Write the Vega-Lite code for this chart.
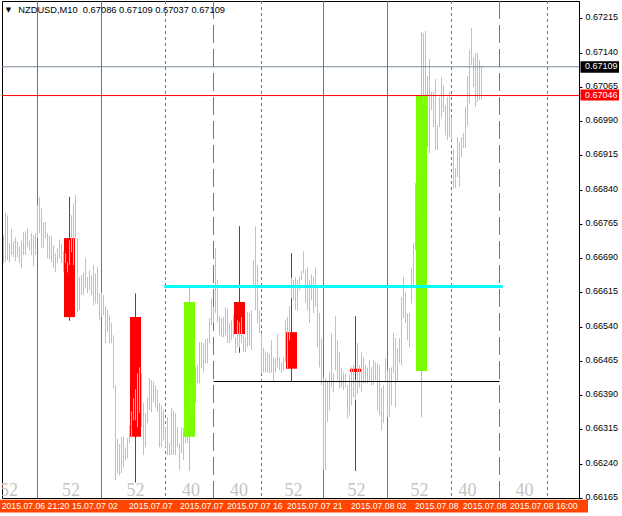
{
"$schema": "https://vega.github.io/schema/vega-lite/v6.json",
"width": 577, "height": 497,
"autosize": {"type": "none"},
"padding": {"left": 2, "top": 1, "right": 43, "bottom": 18},
"background": "#ffffff",
"config": {"view": {"stroke": "#000000", "strokeWidth": 1}},
"datasets": {
"bars": [
{"t":0,"h":0.66740,"l":0.66679},{"t":1,"h":0.66789,"l":0.66681},{"t":2,"h":0.66784,"l":0.66686},{"t":3,"h":0.66723,"l":0.66681},{"t":4,"h":0.66754,"l":0.66697},{"t":5,"h":0.66727,"l":0.66692},{"t":6,"h":0.66736,"l":0.66684},{"t":7,"h":0.66727,"l":0.66692},{"t":8,"h":0.66716,"l":0.66679},{"t":9,"h":0.66729,"l":0.66668},
{"t":10,"h":0.66747,"l":0.66697},{"t":11,"h":0.66749,"l":0.66697},{"t":12,"h":0.66756,"l":0.66714},{"t":13,"h":0.66729,"l":0.66708},{"t":14,"h":0.66745,"l":0.66697},{"t":15,"h":0.66740,"l":0.66672},{"t":16,"h":0.66745,"l":0.66697},{"t":17,"h":0.66806,"l":0.66734},{"t":18,"h":0.66824,"l":0.66745},{"t":19,"h":0.66800,"l":0.66712},
{"t":20,"h":0.66769,"l":0.66712},{"t":21,"h":0.66769,"l":0.66734},{"t":22,"h":0.66745,"l":0.66690},{"t":23,"h":0.66740,"l":0.66688},{"t":24,"h":0.66738,"l":0.66681},{"t":25,"h":0.66718,"l":0.66668},{"t":26,"h":0.66701,"l":0.66659},{"t":27,"h":0.66712,"l":0.66679},{"t":28,"h":0.66731,"l":0.66690},{"t":29,"h":0.66721,"l":0.66679},
{"t":30,"h":0.66705,"l":0.66659},{"t":31,"h":0.66701,"l":0.66679},{"t":32,"h":0.66681,"l":0.66659},{"t":33,"h":0.66729,"l":0.66675},{"t":34,"h":0.66784,"l":0.66703},{"t":35,"h":0.66810,"l":0.66675},{"t":36,"h":0.66828,"l":0.66734},{"t":37,"h":0.66734,"l":0.66572},{"t":38,"h":0.66649,"l":0.66576},{"t":39,"h":0.66653,"l":0.66609},
{"t":40,"h":0.66659,"l":0.66609},{"t":41,"h":0.66690,"l":0.66624},{"t":42,"h":0.66649,"l":0.66613},{"t":43,"h":0.66664,"l":0.66620},{"t":44,"h":0.66653,"l":0.66609},{"t":45,"h":0.66675,"l":0.66587},{"t":46,"h":0.66657,"l":0.66591},{"t":47,"h":0.66670,"l":0.66589},{"t":48,"h":0.66613,"l":0.66554},{"t":49,"h":0.66615,"l":0.66561},
{"t":50,"h":0.66609,"l":0.66565},{"t":51,"h":0.66585,"l":0.66504},{"t":52,"h":0.66578,"l":0.66528},{"t":53,"h":0.66565,"l":0.66504},{"t":54,"h":0.66548,"l":0.66504},{"t":55,"h":0.66521,"l":0.66405},{"t":56,"h":0.66412,"l":0.66204},{"t":57,"h":0.66294,"l":0.66219},{"t":58,"h":0.66283,"l":0.66215},{"t":59,"h":0.66298,"l":0.66219},
{"t":60,"h":0.66298,"l":0.66232},{"t":61,"h":0.66276,"l":0.66248},{"t":62,"h":0.66296,"l":0.66252},{"t":63,"h":0.66324,"l":0.66285},{"t":64,"h":0.66355,"l":0.66296},{"t":65,"h":0.66384,"l":0.66335},{"t":66,"h":0.66403,"l":0.66335},{"t":67,"h":0.66438,"l":0.66320},{"t":68,"h":0.66451,"l":0.66351},{"t":69,"h":0.66438,"l":0.66320},
{"t":70,"h":0.66373,"l":0.66259},{"t":71,"h":0.66351,"l":0.66276},{"t":72,"h":0.66384,"l":0.66329},{"t":73,"h":0.66427,"l":0.66357},{"t":74,"h":0.66423,"l":0.66353},{"t":75,"h":0.66419,"l":0.66375},{"t":76,"h":0.66412,"l":0.66364},{"t":77,"h":0.66403,"l":0.66353},{"t":78,"h":0.66373,"l":0.66276},{"t":79,"h":0.66368,"l":0.66276},
{"t":80,"h":0.66357,"l":0.66291},{"t":81,"h":0.66320,"l":0.66276},{"t":82,"h":0.66342,"l":0.66259},{"t":83,"h":0.66285,"l":0.66259},{"t":84,"h":0.66362,"l":0.66259},{"t":85,"h":0.66357,"l":0.66259},{"t":86,"h":0.66351,"l":0.66259},{"t":87,"h":0.66320,"l":0.66276},{"t":88,"h":0.66285,"l":0.66226},{"t":89,"h":0.66320,"l":0.66263},
{"t":90,"h":0.66318,"l":0.66248},{"t":91,"h":0.66364,"l":0.66285},{"t":92,"h":0.66407,"l":0.66285},{"t":93,"h":0.66412,"l":0.66335},{"t":94,"h":0.66419,"l":0.66351},{"t":95,"h":0.66423,"l":0.66357},{"t":96,"h":0.66451,"l":0.66373},{"t":97,"h":0.66456,"l":0.66416},{"t":98,"h":0.66506,"l":0.66416},{"t":99,"h":0.66506,"l":0.66449},
{"t":100,"h":0.66504,"l":0.66440},{"t":101,"h":0.66513,"l":0.66460},{"t":102,"h":0.66515,"l":0.66460},{"t":103,"h":0.66559,"l":0.66504},{"t":104,"h":0.66602,"l":0.66543},{"t":105,"h":0.66583,"l":0.66548},{"t":106,"h":0.66712,"l":0.66570},{"t":107,"h":0.66642,"l":0.66550},{"t":108,"h":0.66563,"l":0.66521},{"t":109,"h":0.66559,"l":0.66517},
{"t":110,"h":0.66561,"l":0.66517},{"t":111,"h":0.66583,"l":0.66521},{"t":112,"h":0.66580,"l":0.66504},{"t":113,"h":0.66548,"l":0.66504},{"t":114,"h":0.66554,"l":0.66510},{"t":115,"h":0.66565,"l":0.66517},{"t":116,"h":0.66517,"l":0.66482},{"t":117,"h":0.66554,"l":0.66495},{"t":118,"h":0.66550,"l":0.66495},{"t":119,"h":0.66561,"l":0.66504},
{"t":120,"h":0.66521,"l":0.66484},{"t":121,"h":0.66517,"l":0.66484},{"t":122,"h":0.66572,"l":0.66495},{"t":123,"h":0.66570,"l":0.66499},{"t":124,"h":0.66576,"l":0.66489},{"t":125,"h":0.66686,"l":0.66624},{"t":126,"h":0.66760,"l":0.66576},{"t":127,"h":0.66675,"l":0.66548},{"t":128,"h":0.66576,"l":0.66526},{"t":129,"h":0.66526,"l":0.66440},
{"t":130,"h":0.66493,"l":0.66440},{"t":131,"h":0.66486,"l":0.66440},{"t":132,"h":0.66484,"l":0.66440},{"t":133,"h":0.66480,"l":0.66438},{"t":134,"h":0.66510,"l":0.66440},{"t":135,"h":0.66473,"l":0.66419},{"t":136,"h":0.66471,"l":0.66440},{"t":137,"h":0.66524,"l":0.66451},{"t":138,"h":0.66473,"l":0.66445},{"t":139,"h":0.66462,"l":0.66440},
{"t":140,"h":0.66473,"l":0.66445},{"t":141,"h":0.66554,"l":0.66462},{"t":142,"h":0.66561,"l":0.66449},{"t":143,"h":0.66585,"l":0.66510},{"t":144,"h":0.66647,"l":0.66602},{"t":145,"h":0.66642,"l":0.66598},{"t":146,"h":0.66649,"l":0.66576},{"t":147,"h":0.66642,"l":0.66576},{"t":148,"h":0.66649,"l":0.66620},{"t":149,"h":0.66662,"l":0.66642},
{"t":150,"h":0.66705,"l":0.66657},{"t":151,"h":0.66664,"l":0.66591},{"t":152,"h":0.66670,"l":0.66576},{"t":153,"h":0.66642,"l":0.66548},{"t":154,"h":0.66655,"l":0.66598},{"t":155,"h":0.66649,"l":0.66570},{"t":156,"h":0.66670,"l":0.66583},{"t":157,"h":0.66624,"l":0.66495},{"t":158,"h":0.66570,"l":0.66451},{"t":159,"h":0.66515,"l":0.66412},
{"t":160,"h":0.66429,"l":0.66226},{"t":161,"h":0.66427,"l":0.66226},{"t":162,"h":0.66419,"l":0.66331},{"t":163,"h":0.66440,"l":0.66357},{"t":164,"h":0.66526,"l":0.66407},{"t":165,"h":0.66438,"l":0.66396},{"t":166,"h":0.66563,"l":0.66445},{"t":167,"h":0.66510,"l":0.66423},{"t":168,"h":0.66484,"l":0.66405},{"t":169,"h":0.66449,"l":0.66407},
{"t":170,"h":0.66440,"l":0.66401},{"t":171,"h":0.66438,"l":0.66407},{"t":172,"h":0.66412,"l":0.66340},{"t":173,"h":0.66434,"l":0.66346},{"t":174,"h":0.66451,"l":0.66368},{"t":175,"h":0.66456,"l":0.66386},{"t":176,"h":0.66423,"l":0.66379},{"t":177,"h":0.66504,"l":0.66394},{"t":178,"h":0.66456,"l":0.66407},{"t":179,"h":0.66484,"l":0.66396},
{"t":180,"h":0.66473,"l":0.66416},{"t":181,"h":0.66456,"l":0.66416},{"t":182,"h":0.66451,"l":0.66416},{"t":183,"h":0.66467,"l":0.66419},{"t":184,"h":0.66451,"l":0.66412},{"t":185,"h":0.66467,"l":0.66412},{"t":186,"h":0.66462,"l":0.66423},{"t":187,"h":0.66460,"l":0.66357},{"t":188,"h":0.66456,"l":0.66346},{"t":189,"h":0.66407,"l":0.66313},
{"t":190,"h":0.66412,"l":0.66329},{"t":191,"h":0.66471,"l":0.66419},{"t":192,"h":0.66445,"l":0.66342},{"t":193,"h":0.66449,"l":0.66342},{"t":194,"h":0.66451,"l":0.66368},{"t":195,"h":0.66526,"l":0.66438},{"t":196,"h":0.66515,"l":0.66364},{"t":197,"h":0.66493,"l":0.66419},{"t":198,"h":0.66515,"l":0.66460},{"t":199,"h":0.66605,"l":0.66456},
{"t":200,"h":0.66649,"l":0.66559},{"t":201,"h":0.66615,"l":0.66548},{"t":202,"h":0.66570,"l":0.66510},{"t":203,"h":0.66570,"l":0.66495},{"t":204,"h":0.66668,"l":0.66591},{"t":205,"h":0.66723,"l":0.66624},{"t":206,"h":0.66854,"l":0.66708},{"t":207,"h":0.67032,"l":0.66773},{"t":208,"h":0.66988,"l":0.66865},
{"t":210,"h":0.67183,"l":0.67025},{"t":211,"h":0.67187,"l":0.67043},{"t":212,"h":0.67089,"l":0.66933},{"t":213,"h":0.67126,"l":0.66920},{"t":214,"h":0.67054,"l":0.67014},{"t":215,"h":0.67054,"l":0.66977},{"t":216,"h":0.67082,"l":0.66927},{"t":217,"h":0.66981,"l":0.66927},{"t":218,"h":0.67043,"l":0.66977},{"t":219,"h":0.67086,"l":0.66997},
{"t":220,"h":0.67069,"l":0.67010},{"t":221,"h":0.67025,"l":0.66959},{"t":222,"h":0.67043,"l":0.66948},{"t":223,"h":0.67054,"l":0.66955},{"t":224,"h":0.66999,"l":0.66948},{"t":225,"h":0.66929,"l":0.66843},{"t":226,"h":0.66887,"l":0.66843},{"t":227,"h":0.66955,"l":0.66867},{"t":228,"h":0.66944,"l":0.66846},{"t":229,"h":0.66955,"l":0.66911},
{"t":230,"h":0.66964,"l":0.66931},{"t":231,"h":0.67021,"l":0.66931},{"t":232,"h":0.67089,"l":0.66979},{"t":233,"h":0.67146,"l":0.67029},{"t":234,"h":0.67194,"l":0.67113},{"t":235,"h":0.67130,"l":0.67065},{"t":236,"h":0.67139,"l":0.67021},{"t":237,"h":0.67139,"l":0.67032},{"t":238,"h":0.67124,"l":0.67036},{"t":239,"h":0.67109,"l":0.67037}
],
"candles": [
{"t":33,"o":0.66734,"c":0.66561,"h":0.66824,"l":0.66553,"dir":"down"},
{"t":66,"o":0.66561,"c":0.66299,"h":0.66613,"l":0.66199,"dir":"down"},
{"t":93,"o":0.66299,"c":0.66594,"h":0.66626,"l":0.66224,"dir":"up"},
{"t":118,"o":0.66594,"c":0.66524,"h":0.66760,"l":0.66483,"dir":"down"},
{"t":144,"o":0.66528,"c":0.66448,"h":0.66701,"l":0.66420,"dir":"down"},
{"t":176,"o":0.66448,"c":0.66441,"h":0.66563,"l":0.66224,"dir":"down"},
{"t":209,"o":0.66443,"c":0.67046,"h":0.67186,"l":0.66342,"dir":"up"}
],
"vlines": [
{"t":17,"s":"solid"},{"t":49,"s":"solid"},{"t":81,"s":"dot"},{"t":105,"s":"dash"},{"t":129,"s":"dot"},
{"t":160,"s":"solid"},{"t":192,"s":"solid"},{"t":224,"s":"dot"},{"t":248,"s":"dash"},{"t":272,"s":"dot"}
],
"counts": [
{"t":2.75,"n":"52"},{"t":33.75,"n":"52"},{"t":66,"n":"52"},{"t":93.75,"n":"40"},{"t":117.75,"n":"40"},
{"t":145,"n":"52"},{"t":176.5,"n":"52"},{"t":208,"n":"52"},{"t":232,"n":"40"},{"t":260.5,"n":"40"}
],
"times": [
{"t":253.25,"label":"2015.07.08 16:00"},
{"t":229.75,"label":"2015.07.08"},
{"t":205.75,"label":"2015.07.08"},
{"t":173.75,"label":"2015.07.08 02"},
{"t":141.75,"label":"2015.07.07 21"},
{"t":111.75,"label":"2015.07.07 16"},
{"t":88.25,"label":"2015.07.07"},
{"t":62.75,"label":"2015.07.07"},
{"t":34.25,"label":"15.07.07 02"},
{"t":-0.9,"label":"2015.07.06 21:20"}
]
},
"layer": [
{
"data": {"name": "vlines"},
"mark": {"type": "rule", "color": "#ff4500", "strokeWidth": 1},
"encoding": {
"x": {"field": "t", "type": "quantitative", "scale": {"domain": [-0.75, 287.75], "nice": false, "zero": false, "padding": 0}, "axis": null},
"strokeDash": {"field": "s", "type": "nominal", "scale": {"domain": ["solid", "dot", "dash"], "range": [[1, 0], [3, 3], [18, 6]]}, "legend": null}
}
},
{
"data": {"name": "candles"},
"mark": {"type": "rule", "strokeWidth": 1},
"encoding": {
"x": {"field": "t", "type": "quantitative", "scale": {"domain": [-0.75, 287.75], "nice": false, "zero": false, "padding": 0}, "axis": null},
"y": {"field": "h", "type": "quantitative", "scale": {"domain": [0.66165, 0.67253], "nice": false, "zero": false, "padding": 0}, "axis": {"orient": "right", "title": null, "values": [0.66165, 0.6624, 0.66315, 0.6639, 0.66465, 0.6654, 0.66615, 0.6669, 0.66765, 0.6684, 0.66915, 0.6699, 0.67065, 0.6714, 0.67215], "format": ".5f", "grid": false, "labelFont": "Liberation Sans", "labelFontSize": 9, "labelColor": "#000000", "tickColor": "#000000", "tickSize": 3, "labelPadding": 3, "domainColor": "#000000", "labelBaseline": "middle", "labelOffset": -1.6, "labelFlush": false, "labelOverlap": false}},
"y2": {"field": "l"},
"color": {"field": "dir", "type": "nominal", "scale": {"domain": ["down", "up"], "range": ["#ff0000", "#7cfc00"]}, "legend": null}
}
},
{
"data": {"name": "candles"},
"mark": {"type": "bar", "width": 11},
"encoding": {
"x": {"field": "t", "type": "quantitative", "scale": {"domain": [-0.75, 287.75], "nice": false, "zero": false, "padding": 0}, "axis": null},
"y": {"field": "o", "type": "quantitative", "scale": {"domain": [0.66165, 0.67253], "nice": false, "zero": false, "padding": 0}, "axis": {"orient": "right", "title": null, "values": [0.66165, 0.6624, 0.66315, 0.6639, 0.66465, 0.6654, 0.66615, 0.6669, 0.66765, 0.6684, 0.66915, 0.6699, 0.67065, 0.6714, 0.67215], "format": ".5f", "grid": false, "labelFont": "Liberation Sans", "labelFontSize": 9, "labelColor": "#000000", "tickColor": "#000000", "tickSize": 3, "labelPadding": 3, "domainColor": "#000000", "labelBaseline": "middle", "labelOffset": -1.6, "labelFlush": false, "labelOverlap": false}},
"y2": {"field": "c"},
"color": {"field": "dir", "type": "nominal", "scale": {"domain": ["down", "up"], "range": ["#ff0000", "#7cfc00"]}, "legend": null}
}
},
{
"data": {"name": "bars"},
"mark": {"type": "rule", "color": "#c0c0c0", "strokeWidth": 1},
"encoding": {
"x": {"field": "t", "type": "quantitative", "scale": {"domain": [-0.75, 287.75], "nice": false, "zero": false, "padding": 0}, "axis": null},
"y": {"field": "h", "type": "quantitative", "scale": {"domain": [0.66165, 0.67253], "nice": false, "zero": false, "padding": 0}, "axis": {"orient": "right", "title": null, "values": [0.66165, 0.6624, 0.66315, 0.6639, 0.66465, 0.6654, 0.66615, 0.6669, 0.66765, 0.6684, 0.66915, 0.6699, 0.67065, 0.6714, 0.67215], "format": ".5f", "grid": false, "labelFont": "Liberation Sans", "labelFontSize": 9, "labelColor": "#000000", "tickColor": "#000000", "tickSize": 3, "labelPadding": 3, "domainColor": "#000000", "labelBaseline": "middle", "labelOffset": -1.6, "labelFlush": false, "labelOverlap": false}},
"y2": {"field": "l"}
}
},
{
"data": {"values": [{"p": 0.67109}]},
"mark": {"type": "rule", "color": "#778899", "strokeWidth": 1},
"encoding": {
"y": {"field": "p", "type": "quantitative", "scale": {"domain": [0.66165, 0.67253], "nice": false, "zero": false, "padding": 0}, "axis": {"orient": "right", "title": null, "values": [0.66165, 0.6624, 0.66315, 0.6639, 0.66465, 0.6654, 0.66615, 0.6669, 0.66765, 0.6684, 0.66915, 0.6699, 0.67065, 0.6714, 0.67215], "format": ".5f", "grid": false, "labelFont": "Liberation Sans", "labelFontSize": 9, "labelColor": "#000000", "tickColor": "#000000", "tickSize": 3, "labelPadding": 3, "domainColor": "#000000", "labelBaseline": "middle", "labelOffset": -1.6, "labelFlush": false, "labelOverlap": false}}
}
},
{
"data": {"values": [{"p": 0.67046}]},
"mark": {"type": "rule", "color": "#ff0000", "strokeWidth": 1},
"encoding": {
"y": {"field": "p", "type": "quantitative", "scale": {"domain": [0.66165, 0.67253], "nice": false, "zero": false, "padding": 0}, "axis": {"orient": "right", "title": null, "values": [0.66165, 0.6624, 0.66315, 0.6639, 0.66465, 0.6654, 0.66615, 0.6669, 0.66765, 0.6684, 0.66915, 0.6699, 0.67065, 0.6714, 0.67215], "format": ".5f", "grid": false, "labelFont": "Liberation Sans", "labelFontSize": 9, "labelColor": "#000000", "tickColor": "#000000", "tickSize": 3, "labelPadding": 3, "domainColor": "#000000", "labelBaseline": "middle", "labelOffset": -1.6, "labelFlush": false, "labelOverlap": false}}
}
},
{
"data": {"values": [{"p": 0.66628, "t0": 80.4, "t1": 249.6}]},
"mark": {"type": "rule", "color": "#00ffff", "strokeWidth": 3},
"encoding": {
"x": {"field": "t0", "type": "quantitative", "scale": {"domain": [-0.75, 287.75], "nice": false, "zero": false, "padding": 0}, "axis": null},
"x2": {"field": "t1"},
"y": {"field": "p", "type": "quantitative", "scale": {"domain": [0.66165, 0.67253], "nice": false, "zero": false, "padding": 0}, "axis": {"orient": "right", "title": null, "values": [0.66165, 0.6624, 0.66315, 0.6639, 0.66465, 0.6654, 0.66615, 0.6669, 0.66765, 0.6684, 0.66915, 0.6699, 0.67065, 0.6714, 0.67215], "format": ".5f", "grid": false, "labelFont": "Liberation Sans", "labelFontSize": 9, "labelColor": "#000000", "tickColor": "#000000", "tickSize": 3, "labelPadding": 3, "domainColor": "#000000", "labelBaseline": "middle", "labelOffset": -1.6, "labelFlush": false, "labelOverlap": false}}
}
},
{
"data": {"values": [{"p": 0.6642, "t0": 105, "t1": 248}]},
"mark": {"type": "rule", "color": "#000000", "strokeWidth": 1},
"encoding": {
"x": {"field": "t0", "type": "quantitative", "scale": {"domain": [-0.75, 287.75], "nice": false, "zero": false, "padding": 0}, "axis": null},
"x2": {"field": "t1"},
"y": {"field": "p", "type": "quantitative", "scale": {"domain": [0.66165, 0.67253], "nice": false, "zero": false, "padding": 0}, "axis": {"orient": "right", "title": null, "values": [0.66165, 0.6624, 0.66315, 0.6639, 0.66465, 0.6654, 0.66615, 0.6669, 0.66765, 0.6684, 0.66915, 0.6699, 0.67065, 0.6714, 0.67215], "format": ".5f", "grid": false, "labelFont": "Liberation Sans", "labelFontSize": 9, "labelColor": "#000000", "tickColor": "#000000", "tickSize": 3, "labelPadding": 3, "domainColor": "#000000", "labelBaseline": "middle", "labelOffset": -1.6, "labelFlush": false, "labelOverlap": false}}
}
},
{
"data": {"name": "counts"},
"mark": {"type": "text", "font": "Liberation Serif", "fontSize": 18, "color": "#c4c4c4", "align": "center", "baseline": "alphabetic", "clip": true},
"encoding": {
"x": {"field": "t", "type": "quantitative", "scale": {"domain": [-0.75, 287.75], "nice": false, "zero": false, "padding": 0}, "axis": null},
"y": {"datum": 0.66169, "type": "quantitative", "scale": {"domain": [0.66165, 0.67253], "nice": false, "zero": false, "padding": 0}, "axis": {"orient": "right", "title": null, "values": [0.66165, 0.6624, 0.66315, 0.6639, 0.66465, 0.6654, 0.66615, 0.6669, 0.66765, 0.6684, 0.66915, 0.6699, 0.67065, 0.6714, 0.67215], "format": ".5f", "grid": false, "labelFont": "Liberation Sans", "labelFontSize": 9, "labelColor": "#000000", "tickColor": "#000000", "tickSize": 3, "labelPadding": 3, "domainColor": "#000000", "labelBaseline": "middle", "labelOffset": -1.6, "labelFlush": false, "labelOverlap": false}},
"text": {"field": "n"}
}
},
{
"data": {"values": [{"band": "time"}]},
"mark": {"type": "rect", "color": "#ff4500"},
"encoding": {
"x": {"datum": -1.75, "type": "quantitative", "scale": {"domain": [-0.75, 287.75], "nice": false, "zero": false, "padding": 0}, "axis": null},
"x2": {"datum": 292.25},
"y": {"datum": 0.66161, "type": "quantitative", "scale": {"domain": [0.66165, 0.67253], "nice": false, "zero": false, "padding": 0}, "axis": {"orient": "right", "title": null, "values": [0.66165, 0.6624, 0.66315, 0.6639, 0.66465, 0.6654, 0.66615, 0.6669, 0.66765, 0.6684, 0.66915, 0.6699, 0.67065, 0.6714, 0.67215], "format": ".5f", "grid": false, "labelFont": "Liberation Sans", "labelFontSize": 9, "labelColor": "#000000", "tickColor": "#000000", "tickSize": 3, "labelPadding": 3, "domainColor": "#000000", "labelBaseline": "middle", "labelOffset": -1.6, "labelFlush": false, "labelOverlap": false}},
"y2": {"datum": 0.66133}
}
},
{
"data": {"name": "times"},
"mark": {"type": "text", "font": "Liberation Sans", "fontSize": 8.7, "color": "#ffffff", "align": "left", "baseline": "middle"},
"encoding": {
"x": {"field": "t", "type": "quantitative", "scale": {"domain": [-0.75, 287.75], "nice": false, "zero": false, "padding": 0}, "axis": null},
"y": {"datum": 0.66147, "type": "quantitative", "scale": {"domain": [0.66165, 0.67253], "nice": false, "zero": false, "padding": 0}, "axis": {"orient": "right", "title": null, "values": [0.66165, 0.6624, 0.66315, 0.6639, 0.66465, 0.6654, 0.66615, 0.6669, 0.66765, 0.6684, 0.66915, 0.6699, 0.67065, 0.6714, 0.67215], "format": ".5f", "grid": false, "labelFont": "Liberation Sans", "labelFontSize": 9, "labelColor": "#000000", "tickColor": "#000000", "tickSize": 3, "labelPadding": 3, "domainColor": "#000000", "labelBaseline": "middle", "labelOffset": -1.6, "labelFlush": false, "labelOverlap": false}},
"text": {"field": "label"}
}
},
{
"data": {"values": [{"tag": "bid"}]},
"mark": {"type": "rect", "color": "#000000"},
"encoding": {
"x": {"datum": 288.5, "type": "quantitative", "scale": {"domain": [-0.75, 287.75], "nice": false, "zero": false, "padding": 0}, "axis": null},
"x2": {"datum": 307.75},
"y": {"datum": 0.67121, "type": "quantitative", "scale": {"domain": [0.66165, 0.67253], "nice": false, "zero": false, "padding": 0}, "axis": {"orient": "right", "title": null, "values": [0.66165, 0.6624, 0.66315, 0.6639, 0.66465, 0.6654, 0.66615, 0.6669, 0.66765, 0.6684, 0.66915, 0.6699, 0.67065, 0.6714, 0.67215], "format": ".5f", "grid": false, "labelFont": "Liberation Sans", "labelFontSize": 9, "labelColor": "#000000", "tickColor": "#000000", "tickSize": 3, "labelPadding": 3, "domainColor": "#000000", "labelBaseline": "middle", "labelOffset": -1.6, "labelFlush": false, "labelOverlap": false}},
"y2": {"datum": 0.67096}
}
},
{
"data": {"values": [{"tag": "line"}]},
"mark": {"type": "rect", "color": "#ff0000"},
"encoding": {
"x": {"datum": 288.5, "type": "quantitative", "scale": {"domain": [-0.75, 287.75], "nice": false, "zero": false, "padding": 0}, "axis": null},
"x2": {"datum": 307.75},
"y": {"datum": 0.67059, "type": "quantitative", "scale": {"domain": [0.66165, 0.67253], "nice": false, "zero": false, "padding": 0}, "axis": {"orient": "right", "title": null, "values": [0.66165, 0.6624, 0.66315, 0.6639, 0.66465, 0.6654, 0.66615, 0.6669, 0.66765, 0.6684, 0.66915, 0.6699, 0.67065, 0.6714, 0.67215], "format": ".5f", "grid": false, "labelFont": "Liberation Sans", "labelFontSize": 9, "labelColor": "#000000", "tickColor": "#000000", "tickSize": 3, "labelPadding": 3, "domainColor": "#000000", "labelBaseline": "middle", "labelOffset": -1.6, "labelFlush": false, "labelOverlap": false}},
"y2": {"datum": 0.67035}
}
},
{
"data": {"values": [{"p": 0.67109}, {"p": 0.67046}]},
"mark": {"type": "text", "font": "Liberation Sans", "fontSize": 9, "color": "#ffffff", "align": "left", "baseline": "middle", "dy": -0.5},
"encoding": {
"x": {"datum": 290.75, "type": "quantitative", "scale": {"domain": [-0.75, 287.75], "nice": false, "zero": false, "padding": 0}, "axis": null},
"y": {"field": "p", "type": "quantitative", "scale": {"domain": [0.66165, 0.67253], "nice": false, "zero": false, "padding": 0}, "axis": {"orient": "right", "title": null, "values": [0.66165, 0.6624, 0.66315, 0.6639, 0.66465, 0.6654, 0.66615, 0.6669, 0.66765, 0.6684, 0.66915, 0.6699, 0.67065, 0.6714, 0.67215], "format": ".5f", "grid": false, "labelFont": "Liberation Sans", "labelFontSize": 9, "labelColor": "#000000", "tickColor": "#000000", "tickSize": 3, "labelPadding": 3, "domainColor": "#000000", "labelBaseline": "middle", "labelOffset": -1.6, "labelFlush": false, "labelOverlap": false}},
"text": {"field": "p", "type": "quantitative", "format": ".5f"}
}
},
{
"data": {"values": [{"symbol": "\u25bc", "t": 2.5}]},
"mark": {"type": "text", "font": "DejaVu Sans", "fontSize": 7, "color": "#000000", "align": "center", "baseline": "middle"},
"encoding": {
"x": {"field": "t", "type": "quantitative", "scale": {"domain": [-0.75, 287.75], "nice": false, "zero": false, "padding": 0}, "axis": null},
"y": {"datum": 0.67233, "type": "quantitative", "scale": {"domain": [0.66165, 0.67253], "nice": false, "zero": false, "padding": 0}, "axis": {"orient": "right", "title": null, "values": [0.66165, 0.6624, 0.66315, 0.6639, 0.66465, 0.6654, 0.66615, 0.6669, 0.66765, 0.6684, 0.66915, 0.6699, 0.67065, 0.6714, 0.67215], "format": ".5f", "grid": false, "labelFont": "Liberation Sans", "labelFontSize": 9, "labelColor": "#000000", "tickColor": "#000000", "tickSize": 3, "labelPadding": 3, "domainColor": "#000000", "labelBaseline": "middle", "labelOffset": -1.6, "labelFlush": false, "labelOverlap": false}},
"text": {"field": "symbol"}
}
},
{
"data": {"values": [{"title": "NZDUSD,M10\u00a0 0.67086 0.67109 0.67037 0.67109", "t": 7.4}]},
"mark": {"type": "text", "font": "Liberation Sans", "fontSize": 9.3, "color": "#000000", "align": "left", "baseline": "middle"},
"encoding": {
"x": {"field": "t", "type": "quantitative", "scale": {"domain": [-0.75, 287.75], "nice": false, "zero": false, "padding": 0}, "axis": null},
"y": {"datum": 0.67233, "type": "quantitative", "scale": {"domain": [0.66165, 0.67253], "nice": false, "zero": false, "padding": 0}, "axis": {"orient": "right", "title": null, "values": [0.66165, 0.6624, 0.66315, 0.6639, 0.66465, 0.6654, 0.66615, 0.6669, 0.66765, 0.6684, 0.66915, 0.6699, 0.67065, 0.6714, 0.67215], "format": ".5f", "grid": false, "labelFont": "Liberation Sans", "labelFontSize": 9, "labelColor": "#000000", "tickColor": "#000000", "tickSize": 3, "labelPadding": 3, "domainColor": "#000000", "labelBaseline": "middle", "labelOffset": -1.6, "labelFlush": false, "labelOverlap": false}},
"text": {"field": "title"}
}
}
]
}
